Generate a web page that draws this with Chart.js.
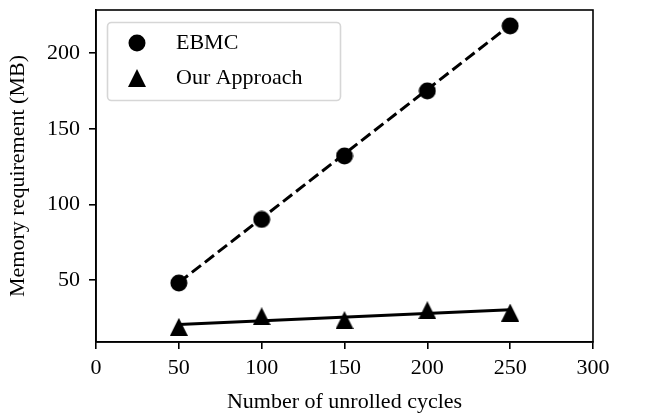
<!DOCTYPE html>
<html>
<head>
<meta charset="utf-8">
<script src="https://cdn.jsdelivr.net/npm/chart.js@4.4.0/dist/chart.umd.min.js"></script>
<style>
  html, body { margin: 0; padding: 0; background: #fff; }
</style>
</head>
<body>
<canvas id="myChart" width="668" height="415"></canvas>
<script>
const cycles = [50, 100, 150, 200, 250];
const ebmcMemory = [48, 90, 132, 175, 218];
const ourMemory = [19, 26, 23.5, 30, 28.5];
// trend lines at both ends
const fitCycles = [50, 250];
const ebmcFit = [48.3, 218.5];
const ourFit = [20.5, 30.3];
const xTicks = [0, 50, 100, 150, 200, 250, 300];
const yTicks = [50, 100, 150, 200];

const serif = "'Liberation Serif', 'Times New Roman', serif";

// matplotlib-like markers ('o' and '^')
function marker(kind) {
  const c = document.createElement('canvas');
  c.width = 18; c.height = 18;
  const g = c.getContext('2d');
  g.fillStyle = '#000';
  g.beginPath();
  if (kind === 'circle') {
    g.arc(9, 9, 8.5, 0, Math.PI * 2);
  } else {
    g.moveTo(9, 0); g.lineTo(18, 18); g.lineTo(0, 18); g.closePath();
  }
  g.fill();
  return c;
}
const dot = marker('circle');
const tri = marker('triangle');

function pts(xs, ys) {
  return xs.map((x, i) => ({ x: x, y: ys[i] }));
}

const framePlugin = {
  id: 'frame',
  beforeDraw(chart) {
    const { ctx, chartArea: a } = chart;
    ctx.save();
    ctx.beginPath();
    ctx.roundRect(a.left + 11.5, a.top + 12.5, 233, 78, 4);
    ctx.fillStyle = 'rgba(255,255,255,0.8)';
    ctx.fill();
    ctx.strokeStyle = '#d6d6d6';
    ctx.lineWidth = 1.6;
    ctx.stroke();
    ctx.restore();
  },
  afterDraw(chart) {
    const { ctx, chartArea: a } = chart;
    ctx.save();
    ctx.strokeStyle = '#000';
    ctx.lineWidth = 1.6;
    ctx.strokeRect(a.left, a.top, a.right - a.left, a.bottom - a.top);
    ctx.restore();
  }
};

function axisGrid() {
  return { drawOnChartArea: false, color: '#000', lineWidth: 1.6, tickLength: 7 };
}

const ctx = document.getElementById('myChart').getContext('2d');
new Chart(ctx, {
  type: 'scatter',
  data: {
    datasets: [
      {
        label: 'EBMC',
        data: pts(cycles, ebmcMemory),
        pointStyle: dot,
        showLine: false
      },
      {
        label: 'Our Approach',
        data: pts(cycles, ourMemory),
        pointStyle: tri,
        showLine: false
      },
      {
        label: 'ebmc fit',
        data: pts(fitCycles, ebmcFit),
        showLine: true,
        borderColor: '#000',
        borderWidth: 3,
        borderDash: [11.5, 5],
        pointRadius: 0
      },
      {
        label: 'our fit',
        data: pts(fitCycles, ourFit),
        showLine: true,
        borderColor: '#000',
        borderWidth: 3,
        pointRadius: 0
      }
    ]
  },
  options: {
    responsive: false,
    animation: false,
    devicePixelRatio: 1,
    layout: { padding: { left: 0, top: 10, right: 75, bottom: 0 } },
    plugins: {
      tooltip: { enabled: false },
      legend: {
        position: 'chartArea',
        align: 'start',
        title: { display: true, text: '', font: { size: 1, lineHeight: 1 }, padding: { top: 18, bottom: 0 } },
        labels: {
          filter: (item) => item.datasetIndex < 2,
          usePointStyle: true,
          pointStyleWidth: 56,
          padding: 13,
          color: '#000',
          font: { family: serif, size: 22 }
        }
      }
    },
    scales: {
      x: {
        type: 'linear',
        min: 0,
        max: 300,
        afterBuildTicks: (s) => { s.ticks = xTicks.map(v => ({ value: v })); },
        afterFit: (s) => { s.height = 73; s.paddingLeft = 0; s.paddingRight = 0; },
        grid: axisGrid(),
        border: { color: '#000', width: 1.6 },
        ticks: { color: '#000', padding: 6, maxRotation: 0, font: { family: serif, size: 22 } },
        title: { display: true, text: 'Number of unrolled cycles', color: '#000', padding: 0, font: { family: serif, size: 22 } }
      },
      y: {
        type: 'linear',
        min: 9,
        max: 228.5,
        afterBuildTicks: (s) => { s.ticks = yTicks.map(v => ({ value: v })); },
        afterFit: (s) => { s.width = 96; s.paddingTop = 0; s.paddingBottom = 0; },
        grid: axisGrid(),
        border: { color: '#000', width: 1.6 },
        ticks: { color: '#000', padding: 9, font: { family: serif, size: 22 } },
        title: { display: true, text: 'Memory requirement (MB)', color: '#000', padding: { top: 5, bottom: 0 }, font: { family: serif, size: 22 } }
      }
    }
  },
  plugins: [framePlugin]
});
</script>
</body>
</html>
